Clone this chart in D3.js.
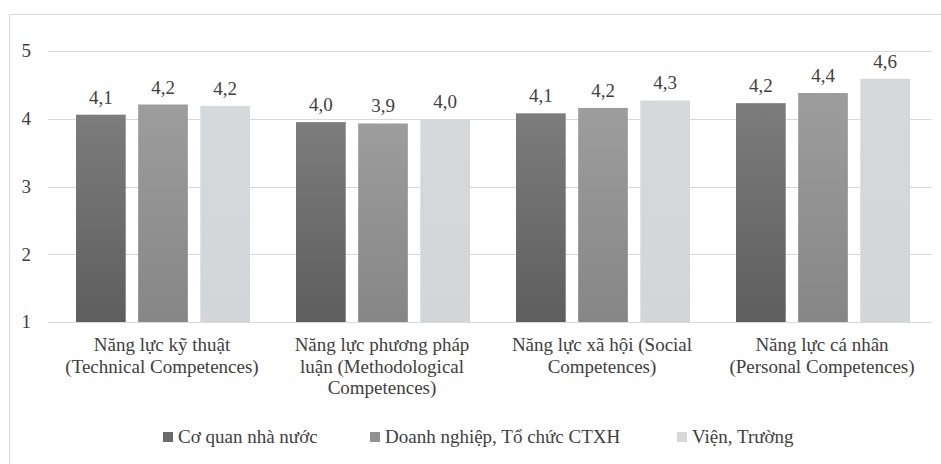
<!DOCTYPE html>
<html>
<head>
<meta charset="utf-8">
<script src="https://d3js.org/d3.v7.min.js"></script>
</head>
<body style="margin:0">
<script>
var categories = [
  ["Năng lực kỹ thuật", "(Technical Competences)"],
  ["Năng lực phương pháp", "luận (Methodological", "Competences)"],
  ["Năng lực xã hội (Social", "Competences)"],
  ["Năng lực cá nhân", "(Personal Competences)"]
];
var seriesNames = ["Cơ quan nhà nước", "Doanh nghiệp, Tổ chức CTXH", "Viện, Trường"];
var coQuan = [4.06, 3.95, 4.08, 4.23];
var doanhNghiep = [4.21, 3.93, 4.16, 4.38];
var vienTruong = [4.19, 3.99, 4.27, 4.59];
var yTicks = [1, 2, 3, 4, 5];

var series = [coQuan, doanhNghiep, vienTruong];
var width = 941, height = 464;
var serif = "'Liberation Serif', Tinos, FreeSerif, 'Times New Roman', serif";
var fs = 19, textColor = "#404040";

var svg = d3.select("body").append("svg")
  .attr("width", width).attr("height", height);

// gradients like the office chart
var defs = svg.append("defs");
var grads = [["#7c7c7c", "#5e5e5e"], ["#9d9d9d", "#868686"], ["#d6d9dc", "#d3d6d9"]];
grads.forEach(function(g, i) {
  var lg = defs.append("linearGradient").attr("id", "g" + i)
    .attr("x1", 0).attr("y1", 0).attr("x2", 0).attr("y2", 1);
  lg.append("stop").attr("offset", "0%").attr("stop-color", g[0]);
  lg.append("stop").attr("offset", "100%").attr("stop-color", g[1]);
});
var legendColors = ["#6b6b6b", "#929292", "#d5d8db"];

function label(sel) {
  return sel.attr("font-family", serif).attr("font-size", fs).attr("fill", textColor);
}

// outer frame (cropped at right/bottom)
svg.append("rect").attr("x", 9.5).attr("y", 14.5)
  .attr("width", 960).attr("height", 480)
  .attr("fill", "none").attr("stroke", "#d9d9d9");

var x0 = d3.scaleBand().domain(d3.range(categories.length)).range([52, 932]).paddingInner(0).paddingOuter(0);
var x1 = d3.scaleBand().domain(d3.range(series.length)).range([24, x0.bandwidth() - 22]).paddingInner(0.2).paddingOuter(0);
var y = d3.scaleLinear().domain([1, 5]).range([322, 51]);

// gridlines
svg.selectAll("line.grid").data(yTicks).join("line").attr("class", "grid")
  .attr("x1", 48).attr("x2", 932)
  .attr("y1", function(d) { return Math.round(y(d)) + 0.5; })
  .attr("y2", function(d) { return Math.round(y(d)) + 0.5; })
  .attr("stroke", "#d9d9d9");

// y tick labels
svg.selectAll("text.ytick").data(yTicks).join("text").attr("class", "ytick")
  .attr("x", 31).attr("y", function(d) { return y(d); }).attr("dy", "0.33em")
  .attr("text-anchor", "end")
  .text(d3.format("d"))
  .call(label);

var fmt = function(v) { return d3.format(".1f")(v).replace(".", ","); };

var bars = [];
series.forEach(function(s, si) {
  s.forEach(function(v, ci) { bars.push({ s: si, c: ci, v: v }); });
});

svg.selectAll("rect.bar").data(bars).join("rect").attr("class", "bar")
  .attr("x", function(d) { return x0(d.c) + x1(d.s); })
  .attr("width", x1.bandwidth())
  .attr("y", function(d) { return y(d.v); })
  .attr("height", function(d) { return y(1) - y(d.v); })
  .attr("fill", function(d) { return "url(#g" + d.s + ")"; });

svg.selectAll("text.val").data(bars).join("text").attr("class", "val")
  .attr("x", function(d) { return x0(d.c) + x1(d.s) + x1.bandwidth() / 2; })
  .attr("y", function(d) { return y(d.v) - 11; })
  .attr("text-anchor", "middle")
  .text(function(d) { return fmt(d.v); })
  .call(label);

categories.forEach(function(c, ci) {
  svg.selectAll("text.cat" + ci).data(c).join("text").attr("class", "cat" + ci)
    .attr("x", x0(ci) + x0.bandwidth() / 2)
    .attr("y", function(d, i) { return 351 + i * 21.5; })
    .attr("text-anchor", "middle")
    .text(function(d) { return d; })
    .call(label);
});

// legend
var legendX = [163, 370, 677];
svg.selectAll("rect.key").data(seriesNames).join("rect").attr("class", "key")
  .attr("x", function(d, i) { return legendX[i]; }).attr("y", 432)
  .attr("width", 10).attr("height", 10)
  .attr("fill", function(d, i) { return legendColors[i]; });
svg.selectAll("text.key").data(seriesNames).join("text").attr("class", "key")
  .attr("x", function(d, i) { return legendX[i] + 15; }).attr("y", 443)
  .text(function(d) { return d; })
  .call(label);
</script>
</body>
</html>
